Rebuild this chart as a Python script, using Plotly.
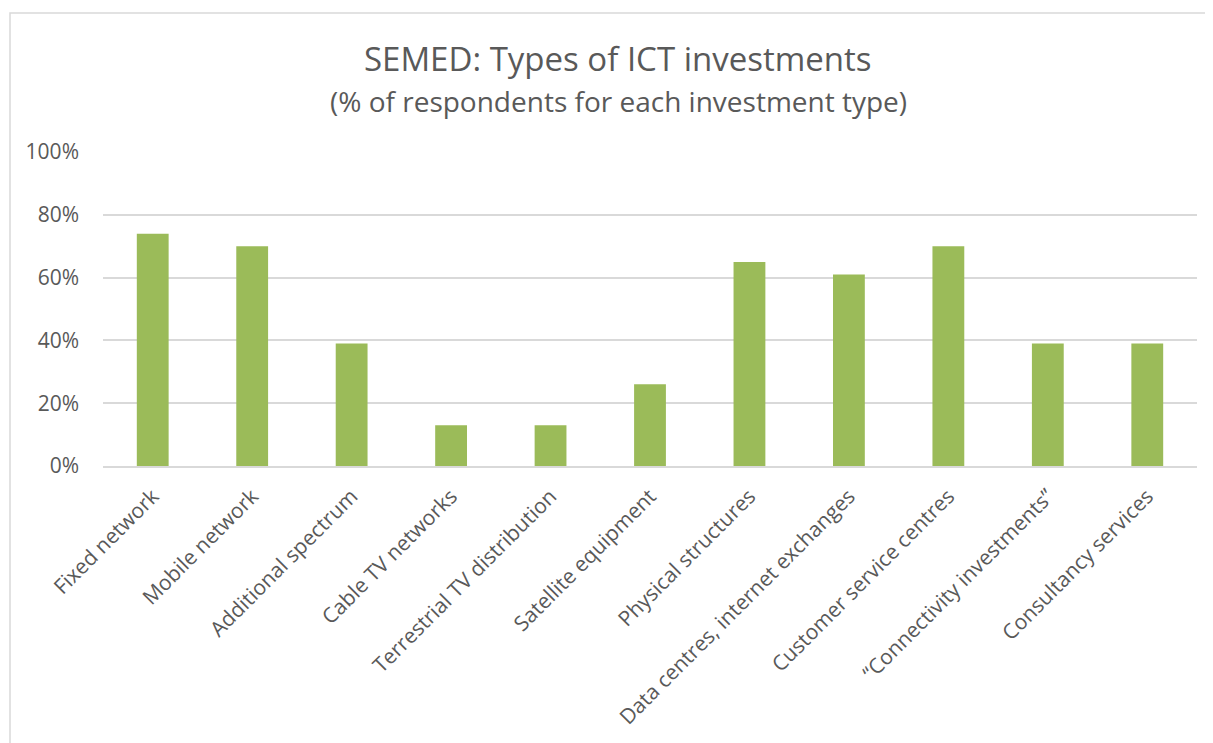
import plotly.graph_objects as go

categories = [
    "Fixed network", "Mobile network", "Additional spectrum", "Cable TV networks",
    "Terrestrial TV distribution", "Satellite equipment", "Physical structures",
    "Data centres, internet exchanges", "Customer service centres",
    "“Connectivity investments”", "Consultancy services",
]
values = [0.74, 0.70, 0.39, 0.13, 0.13, 0.26, 0.65, 0.61, 0.70, 0.39, 0.39]
y_ticks = [0, 0.2, 0.4, 0.6, 0.8, 1.0]
y_tick_labels = ["0%", "20%", "40%", "60%", "80%", "100%"]

W, H = 1213, 743
OFF = 8  # page body margin
# target screen positions of plot area
SL, SR, ST, SB = 103, 1197, 152, 466
L, T = SL - OFF, ST - OFF
R, B = W - (SR - OFF), H - (SB - OFF)
pw, ph = W - L - R, H - T - B

def px(x):
    return (x - OFF - L) / pw

def py(y):
    return ((H - B) - (y - OFF)) / ph

FONT = "Open Sans"
TXT = "#595959"

fig = go.Figure(go.Bar(
    x=categories, y=values, marker_color="#9BBB59", marker_line_width=0,
))

fig.update_layout(
    width=W, height=H,
    margin=dict(l=L, r=R, t=T, b=B, autoexpand=False),
    paper_bgcolor="white", plot_bgcolor="white",
    bargap=0.68, showlegend=False,
    font=dict(family=FONT, color=TXT),
    xaxis=dict(tickangle=-45, tickfont=dict(size=21, color=TXT, family=FONT),
               showgrid=False, showline=True, linecolor="#D9D9D9", linewidth=1.5,
               ticks="", ticklen=0, ticklabelstandoff=8),
    yaxis=dict(range=[0, 1.0], tickvals=y_ticks, ticktext=y_tick_labels,
               tickfont=dict(size=21, color=TXT, family=FONT),
               showgrid=True, gridcolor="#D9D9D9", gridwidth=1.5,
               zeroline=False, showline=False, ticks="", ticklabelstandoff=23),
    shapes=[dict(type="rect", xref="paper", yref="paper",
                 x0=px(10), x1=px(1240), y0=py(770), y1=py(13),
                 line=dict(color="#D9D9D9", width=1.5), fillcolor="rgba(0,0,0,0)",
                 layer="below")],
    annotations=[
        dict(text="SEMED: Types of ICT investments", xref="paper", yref="paper",
             x=px(618), y=py(59), xanchor="center", yanchor="middle", showarrow=False,
             font=dict(size=33, color=TXT, family=FONT)),
        dict(text="(% of respondents for each investment type)", xref="paper", yref="paper",
             x=px(618), y=py(101), xanchor="center", yanchor="middle", showarrow=False,
             font=dict(size=28, color=TXT, family=FONT)),
    ],
)

fig.write_html("out.html")
